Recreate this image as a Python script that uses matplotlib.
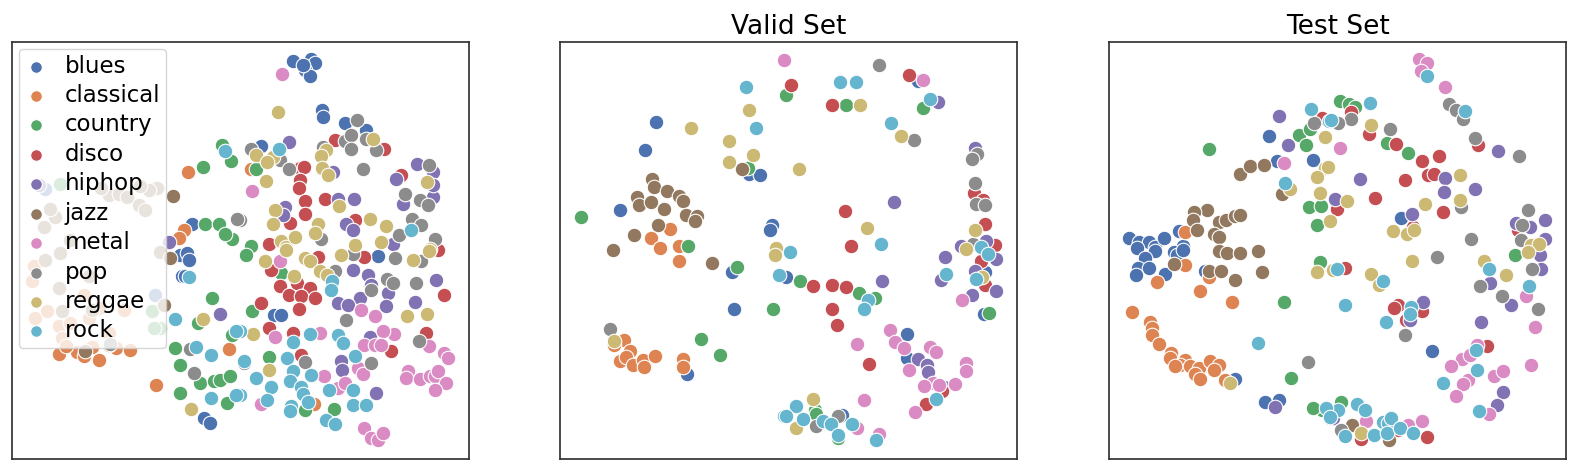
import matplotlib
matplotlib.use("Agg")
import matplotlib.pyplot as plt

# 2-D embedding coordinates per genre, read per panel (x, y)
genres = ["blues", "classical", "country", "disco", "hiphop",
          "jazz", "metal", "pop", "reggae", "rock"]
palette = ["#4C72B0", "#DD8452", "#55A868", "#C44E52", "#8172B3",
           "#937860", "#DA8BC3", "#8C8C8C", "#CCB974", "#64B5CD"]

train_blues = [(293, 61), (311, 59), (315, 63), (305, 70), (310, 76), (303, 65), (322, 110), (323, 117),
               (345, 123), (366, 130), (261, 146), (378, 256), (274, 315), (281, 315), (180, 255), (187, 253),
               (189, 260), (182, 276), (185, 276), (192, 224), (204, 418), (210, 423), (45, 189), (155, 295)]
train_classical = [(188, 172), (184, 230), (179, 238), (251, 169), (59, 354), (77, 352), (84, 356), (99, 360),
                   (116, 348), (130, 350), (109, 345), (156, 385), (229, 349), (314, 404), (34, 266), (32, 281),
                   (35, 318), (47, 311), (59, 326), (62, 338), (70, 323), (89, 318), (99, 308), (109, 333),
                   (124, 310), (84, 295), (66, 346), (92, 347)]
train_country = [(222, 145), (231, 161), (203, 167), (205, 224), (219, 224), (232, 239), (225, 234), (256, 169),
                 (251, 246), (246, 255), (281, 273), (252, 311), (269, 357), (305, 410), (334, 409), (212, 298),
                 (198, 323), (175, 348), (180, 365), (180, 393), (200, 383), (214, 381), (220, 380), (230, 376),
                 (227, 403), (232, 335), (60, 184), (152, 311), (160, 328), (154, 328)]
train_disco = [(335, 140), (384, 149), (300, 168), (304, 167), (300, 180), (299, 188), (325, 199), (305, 201),
               (305, 214), (290, 223), (355, 220), (269, 244), (271, 270), (280, 286), (289, 295), (297, 283),
               (310, 288), (301, 296), (315, 298), (299, 309), (318, 257), (364, 257), (438, 250), (401, 175),
               (444, 295), (426, 333), (391, 351), (269, 328), (261, 303), (293, 333), (301, 355)]
train_hiphop = [(289, 142), (333, 172), (417, 164), (433, 172), (396, 179), (403, 204), (433, 197), (433, 185),
                (338, 199), (354, 199), (285, 207), (283, 215), (346, 224), (353, 230), (393, 244), (353, 270),
                (368, 275), (371, 285), (388, 293), (360, 298), (338, 303), (348, 305), (386, 306), (436, 280),
                (415, 302), (370, 337), (341, 361), (342, 370), (376, 393), (220, 314), (169, 242), (39, 185)]
train_jazz = [(173, 196), (157, 188), (149, 190), (139, 205), (145, 210), (109, 195), (119, 194), (127, 197),
              (55, 217), (44, 227), (50, 209), (45, 260), (60, 253), (59, 288), (62, 311), (92, 310), (89, 276),
              (164, 305), (85, 351), (101, 188), (140, 186), (160, 252), (170, 258), (70, 240)]
train_metal = [(282, 74), (252, 191), (280, 261), (361, 310), (375, 316), (429, 346), (444, 353), (448, 358),
               (394, 334), (383, 331), (364, 345), (375, 345), (381, 345), (275, 337), (320, 333), (358, 368),
               (363, 374), (261, 404), (324, 376), (338, 388), (345, 383), (364, 428), (371, 438), (378, 440),
               (383, 433), (408, 371), (406, 378), (420, 379), (430, 376), (435, 376), (438, 371), (446, 383),
               (435, 390)]
train_pop = [(357, 120), (345, 141), (351, 135), (351, 149), (366, 139), (376, 150), (251, 149), (280, 160),
             (289, 169), (323, 147), (363, 169), (429, 165), (405, 194), (420, 200), (428, 205), (240, 220),
             (321, 239), (412, 219), (421, 225), (399, 235), (435, 239), (335, 271), (353, 254), (395, 258),
             (421, 261), (371, 290), (387, 279), (393, 283), (416, 283), (419, 341), (346, 320), (305, 362),
             (371, 363), (244, 363), (237, 219), (110, 344), (190, 349), (194, 373)]
train_reggae = [(278, 112), (373, 139), (256, 155), (273, 157), (267, 162), (266, 181), (326, 150), (321, 156),
                (322, 168), (328, 175), (427, 182), (339, 206), (275, 210), (273, 224), (318, 224), (315, 233),
                (370, 219), (386, 226), (430, 249), (281, 241), (286, 247), (295, 237), (355, 245), (381, 242),
                (265, 261), (286, 250), (294, 276), (305, 258), (310, 261), (320, 271), (327, 275), (341, 255),
                (413, 260), (429, 251), (407, 316), (427, 314), (253, 334), (269, 370), (203, 319), (191, 409)]
train_rock = [(225, 151), (279, 149), (411, 230), (332, 281), (331, 290), (240, 331), (293, 342), (310, 334),
              (338, 335), (343, 343), (355, 356), (287, 358), (244, 361), (256, 378), (293, 371), (290, 381),
              (311, 375), (301, 387), (303, 394), (271, 387), (267, 400), (240, 395), (291, 406), (290, 411),
              (308, 402), (329, 390), (353, 390), (353, 405), (366, 405), (326, 420), (335, 424), (175, 319),
              (189, 277), (196, 347), (211, 355), (211, 398), (236, 331), (236, 395)]

valid_blues = [(656, 122), (645, 150), (749, 174), (760, 175), (620, 210), (772, 225), (770, 230), (732, 272),
               (734, 309), (687, 374), (918, 81), (786, 277), (907, 334), (907, 358), (944, 387), (842, 415),
               (985, 272), (984, 314)]
valid_classical = [(670, 229), (651, 238), (660, 248), (679, 246), (679, 261), (624, 340), (630, 351), (620, 361),
                   (626, 357), (633, 365), (643, 360), (644, 367), (655, 356), (614, 345), (683, 359), (683, 367)]
valid_country = [(786, 95), (748, 168), (581, 217), (688, 246), (737, 267), (773, 309), (701, 339), (720, 355),
                 (846, 105), (923, 108), (800, 281), (859, 293), (875, 298), (815, 410), (816, 414), (838, 438),
                 (989, 313)]
valid_disco = [(791, 85), (909, 75), (832, 105), (974, 193), (983, 200), (985, 224), (845, 211), (851, 246),
               (995, 245), (813, 286), (832, 285), (846, 287), (832, 309), (837, 325), (869, 364), (942, 391),
               (926, 404), (981, 261), (985, 285)]
valid_hiphop = [(938, 102), (975, 148), (894, 202), (986, 241), (961, 246), (882, 281), (918, 359), (927, 365),
                (928, 372), (945, 257), (996, 259), (975, 271), (941, 280), (972, 295), (996, 291)]
valid_jazz = [(742, 169), (652, 179), (654, 187), (667, 191), (679, 196), (683, 201), (637, 197), (639, 205),
              (651, 202), (664, 209), (686, 215), (697, 216), (695, 221), (658, 225), (634, 235), (613, 250),
              (712, 263)]
valid_metal = [(784, 60), (923, 80), (857, 344), (890, 330), (895, 342), (904, 348), (909, 370), (930, 347),
               (936, 352), (933, 383), (924, 386), (939, 385), (955, 384), (966, 363), (966, 371), (915, 412),
               (864, 400), (962, 300), (857, 428), (879, 434)]
valid_pop = [(879, 65), (914, 140), (977, 154), (972, 159), (975, 183), (976, 204), (985, 205), (973, 244),
             (610, 329), (816, 426), (838, 416)]
valid_reggae = [(749, 110), (691, 128), (729, 141), (753, 155), (729, 162), (776, 248), (775, 255), (860, 105),
                (901, 136), (799, 169), (867, 228), (975, 230), (966, 249), (614, 341), (982, 277), (813, 399),
                (796, 428)]
valid_rock = [(746, 87), (756, 128), (840, 82), (856, 82), (930, 99), (891, 123), (881, 244), (981, 247),
              (790, 252), (779, 275), (784, 416), (988, 254), (946, 274), (976, 279), (868, 300), (864, 309),
              (936, 399), (796, 406), (786, 416), (803, 419), (823, 421), (831, 424), (852, 424), (838, 435),
              (876, 440)]

test_blues = [(1269, 136), (1277, 161), (1313, 160), (1179, 231), (1129, 238), (1139, 242), (1149, 242),
              (1155, 247), (1164, 238), (1183, 246), (1174, 252), (1137, 248), (1155, 251), (1145, 258),
              (1138, 268), (1149, 268), (1136, 275), (1165, 274), (1177, 255), (1183, 250), (1205, 271),
              (1235, 379), (1265, 402), (1279, 400), (1401, 218), (1432, 351)]
test_classical = [(1185, 232), (1185, 265), (1157, 282), (1200, 291), (1209, 277), (1232, 302), (1132, 312),
                  (1150, 322), (1152, 328), (1152, 335), (1159, 344), (1171, 353), (1170, 358), (1185, 360),
                  (1180, 365), (1175, 366), (1190, 366), (1199, 368), (1195, 374), (1200, 379), (1210, 361),
                  (1219, 365), (1214, 370), (1225, 380)]
test_country = [(1209, 149), (1299, 135), (1306, 145), (1310, 129), (1309, 207), (1321, 206), (1317, 225),
                (1284, 302), (1320, 262), (1291, 378), (1322, 410), (1340, 101), (1349, 104), (1355, 107),
                (1387, 143), (1408, 153), (1515, 255), (1341, 402), (1313, 408)]
test_disco = [(1322, 118), (1478, 145), (1351, 112), (1369, 134), (1396, 144), (1422, 161), (1439, 156),
              (1428, 175), (1434, 174), (1405, 180), (1375, 198), (1337, 209), (1443, 212), (1413, 227),
              (1518, 230), (1345, 268), (1398, 305), (1394, 308), (1422, 311), (1406, 320), (1487, 346),
              (1361, 439), (1398, 430), (1427, 437)]
test_hiphop = [(1288, 145), (1279, 116), (1498, 151), (1445, 178), (1444, 192), (1475, 189), (1360, 179),
               (1335, 199), (1412, 214), (1545, 220), (1516, 223), (1530, 227), (1545, 239), (1423, 302),
               (1410, 320), (1490, 283), (1511, 305), (1481, 322), (1540, 255), (1541, 269), (1503, 392),
               (1497, 405), (1275, 407), (1330, 418), (1333, 418)]
test_jazz = [(1282, 194), (1240, 174), (1250, 166), (1264, 165), (1207, 210), (1194, 212), (1193, 220),
             (1197, 230), (1219, 222), (1226, 220), (1235, 216), (1240, 215), (1214, 234), (1219, 237),
             (1219, 251), (1227, 253), (1240, 253), (1258, 251), (1174, 264), (1209, 271), (1221, 271),
             (1235, 280), (1262, 272), (1352, 425), (1389, 440)]
test_metal = [(1284, 163), (1419, 59), (1427, 63), (1421, 71), (1445, 87), (1340, 148), (1526, 296), (1535, 327),
              (1531, 365), (1477, 345), (1462, 359), (1470, 355), (1451, 366), (1468, 380), (1463, 384),
              (1494, 376), (1503, 371), (1456, 396), (1489, 414), (1366, 421), (1408, 425), (1422, 421)]
test_pop = [(1314, 123), (1449, 104), (1456, 110), (1463, 119), (1475, 138), (1519, 156), (1351, 119), (1338, 123),
            (1390, 129), (1461, 207), (1471, 239), (1528, 210), (1522, 225), (1521, 240), (1437, 257), (1405, 335),
            (1480, 286), (1502, 296), (1532, 269), (1538, 309), (1308, 362), (1341, 430)]
test_reggae = [(1325, 137), (1325, 168), (1317, 177), (1320, 193), (1330, 221), (1290, 189), (1317, 272),
               (1230, 383), (1371, 125), (1460, 175), (1460, 200), (1347, 201), (1328, 167), (1425, 204),
               (1393, 231), (1407, 234), (1414, 230), (1531, 245), (1539, 244), (1333, 270), (1371, 274),
               (1379, 285), (1412, 261), (1484, 261), (1506, 275), (1528, 252), (1361, 433)]
test_rock = [(1311, 109), (1329, 121), (1285, 183), (1427, 76), (1465, 111), (1370, 103), (1331, 120), (1258, 343),
             (1337, 269), (1383, 281), (1345, 305), (1386, 322), (1411, 307), (1410, 314), (1489, 269), (1529, 286),
             (1476, 350), (1477, 370), (1443, 383), (1479, 411), (1338, 410), (1357, 404), (1365, 410), (1345, 436),
             (1374, 435), (1383, 422), (1388, 423), (1391, 418), (1387, 433), (1400, 428), (1413, 433), (1326, 408),
             (1330, 417)]

train = [train_blues, train_classical, train_country, train_disco, train_hiphop,
         train_jazz, train_metal, train_pop, train_reggae, train_rock]
valid = [valid_blues, valid_classical, valid_country, valid_disco, valid_hiphop,
         valid_jazz, valid_metal, valid_pop, valid_reggae, valid_rock]
test = [test_blues, test_classical, test_country, test_disco, test_hiphop,
        test_jazz, test_metal, test_pop, test_reggae, test_rock]


def plot_embedding(ax, groups, xlim, ylim, title=None):
    for name, color, pts in zip(genres, palette, groups):
        xs = [p[0] for p in pts]
        ys = [p[1] for p in pts]
        ax.scatter(xs, ys, s=110, color=color, edgecolor="white", linewidth=0.8, label=name)
    ax.set_xlim(*xlim)
    ax.set_ylim(*ylim)
    ax.set_xticks([])
    ax.set_yticks([])
    for sp in ax.spines.values():
        sp.set_color("#333333")
        sp.set_linewidth(1.25)
    if title:
        ax.set_title(title, fontsize=19, pad=6)


W, H = 1578, 471
fig = plt.figure(figsize=(W / 100, H / 100), dpi=100)
bottom, height = (H - 459) / H, 417 / H
ax1 = fig.add_axes([12 / W, bottom, 457 / W, height])
ax2 = fig.add_axes([560 / W, bottom, 457 / W, height])
ax3 = fig.add_axes([1109 / W, bottom, 457 / W, height])

plot_embedding(ax1, train, (12, 469), (459, 42))
plot_embedding(ax2, valid, (560, 1017), (459, 42), "Valid Set")
plot_embedding(ax3, test, (1109, 1566), (459, 42), "Test Set")

ax1.legend(loc="upper left", fontsize=16.5, markerscale=0.8, handlelength=1.0,
           handletextpad=0.75, labelspacing=0.28, borderaxespad=0.3, borderpad=0.25,
           framealpha=0.8, edgecolor="0.8")

fig.savefig("out.png", dpi=100)
